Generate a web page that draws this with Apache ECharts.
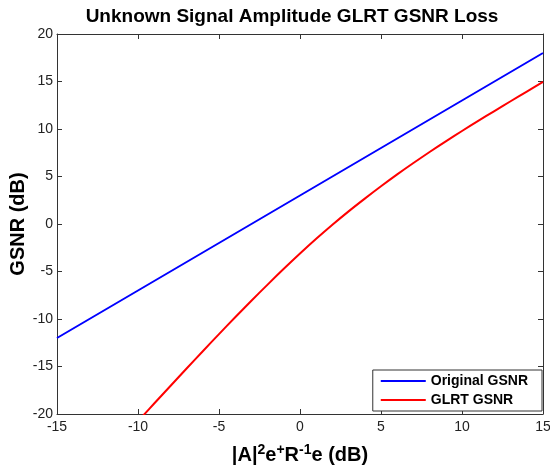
<!DOCTYPE html>
<html>
<head>
<meta charset="utf-8">
<script src="https://cdn.jsdelivr.net/npm/echarts@6/dist/echarts.min.js"></script>
<style>html,body{margin:0;padding:0;background:#fff;}#c{width:550px;height:470px;}</style>
</head>
<body>
<div id="c"></div>
<script>
var titleText = 'Unknown Signal Amplitude GLRT GSNR Loss';
var seriesNames = ['Original GSNR', 'GLRT GSNR'];
var xTicks = [-15, -10, -5, 0, 5, 10, 15];
var yTicks = [-20, -15, -10, -5, 0, 5, 10, 15, 20];

var origX = [-15, -10, -5, 0, 5, 10, 15];
var origY = [-12, -7, -2, 3, 8, 13, 18];

var glrtX = [-9.7, -9, -8, -7, -6, -5, -4, -3, -2, -1, 0, 1, 2, 3, 4, 5, 6, 7, 8, 9, 10, 11, 12, 13, 14, 15];
var glrtY = [-20.2, -18.9, -17.05, -15.21, -13.39, -11.59, -9.82, -8.08, -6.38, -4.72, -3.11, -1.56, -0.08, 1.33, 2.67, 3.97, 5.22, 6.42, 7.58, 8.70, 9.79, 10.85, 11.89, 12.92, 13.94, 14.95];

function pairs(xs, ys) { return xs.map(function (x, i) { return [x, ys[i]]; }); }

var font = 'Liberation Sans, Arial, sans-serif';
var chart = echarts.init(document.getElementById('c'));
var axisLine = { show: true, onZero: false, lineStyle: { color: '#333', width: 1 } };
var tick = { show: true, inside: true, length: 5, lineStyle: { color: '#333' } };
chart.setOption({
  animation: false,
  backgroundColor: '#fff',
  title: {
    text: titleText, left: 287, top: 2, textAlign: 'center',
    textStyle: { fontFamily: font, fontWeight: 'bold', fontSize: 19, color: '#000' }
  },
  grid: { left: 57, right: 7, top: 34, bottom: 56, containLabel: false, outerBoundsMode: 'none' },
  legend: {
    data: seriesNames, orient: 'vertical', right: 8, bottom: 59,
    backgroundColor: '#fff', borderColor: '#333', borderWidth: 1,
    padding: [4, 14, 4, 8], itemGap: 5, itemWidth: 45, itemHeight: 2, icon: 'rect',
    textStyle: { fontFamily: font, fontWeight: 'bold', fontSize: 14, color: '#000' }
  },
  xAxis: [{
    type: 'value', min: -15, max: 15, interval: 5, position: 'bottom',
    name: '|A|{sup|2}e{sup|+}R{sup|-1}e (dB)', nameLocation: 'middle', nameGap: 29, nameMoveOverlap: false,
    nameTextStyle: { fontFamily: font, fontWeight: 'bold', fontSize: 20, color: '#000',
      rich: { sup: { fontFamily: font, fontWeight: 'bold', fontSize: 14, color: '#000', verticalAlign: 'top', padding: [0, 0, 10, 0] } } },
    axisLine: axisLine, axisTick: tick, splitLine: { show: false },
    axisLabel: { fontFamily: font, fontSize: 14, color: '#222', margin: 6 }
  }, {
    type: 'value', min: -15, max: 15, interval: 5, position: 'top',
    axisLine: axisLine, axisTick: tick, splitLine: { show: false }, axisLabel: { show: false }
  }],
  yAxis: [{
    type: 'value', min: -20, max: 20, interval: 5, position: 'left',
    name: 'GSNR (dB)', nameLocation: 'middle', nameGap: 29, nameRotate: 90, nameMoveOverlap: false,
    nameTextStyle: { fontFamily: font, fontWeight: 'bold', fontSize: 20, color: '#000' },
    axisLine: axisLine, axisTick: tick, splitLine: { show: false },
    axisLabel: { fontFamily: font, fontSize: 14, color: '#222', margin: 4 }
  }, {
    type: 'value', min: -20, max: 20, interval: 5, position: 'right',
    axisLine: axisLine, axisTick: tick, splitLine: { show: false }, axisLabel: { show: false }
  }],
  series: [{
    name: seriesNames[0], type: 'line', data: pairs(origX, origY), showSymbol: false, symbol: 'none',
    lineStyle: { color: '#0000ff', width: 2 }, itemStyle: { color: '#0000ff' }, clip: true
  }, {
    name: seriesNames[1], type: 'line', data: pairs(glrtX, glrtY), showSymbol: false, symbol: 'none', smooth: 0.3,
    lineStyle: { color: '#ff0000', width: 2 }, itemStyle: { color: '#ff0000' }, clip: true
  }]
});
</script>
</body>
</html>
